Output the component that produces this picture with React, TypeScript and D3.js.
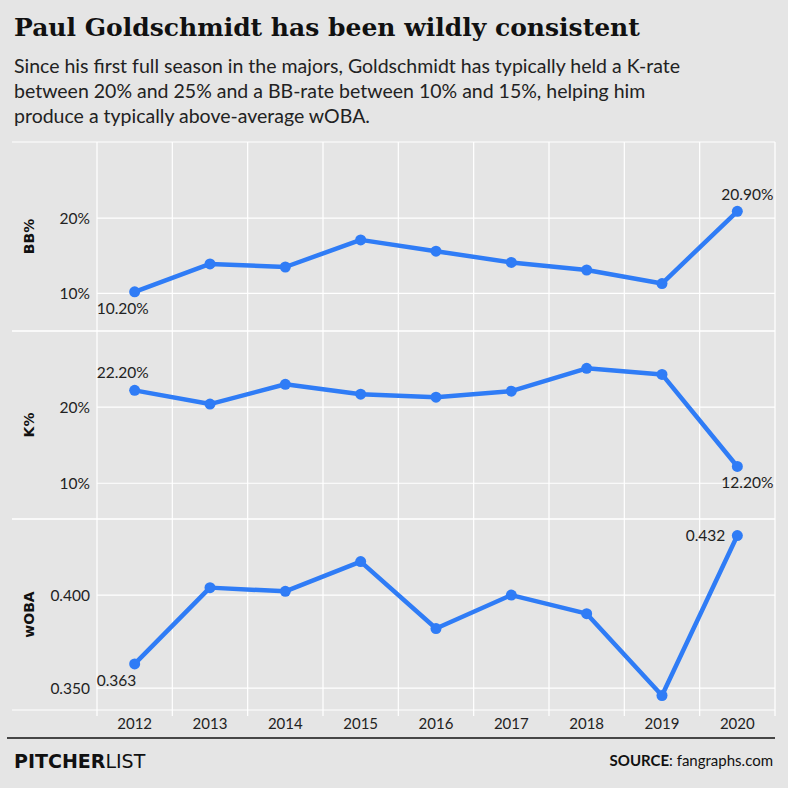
import * as d3 from 'd3';

const years = ['2012', '2013', '2014', '2015', '2016', '2017', '2018', '2019', '2020'];
const bbRate = [10.2, 13.9, 13.5, 17.1, 15.6, 14.1, 13.1, 11.3, 20.9];
const kRate = [22.2, 20.4, 23.0, 21.7, 21.3, 22.1, 25.1, 24.3, 12.2];
const woba = [0.363, 0.404, 0.402, 0.418, 0.382, 0.4, 0.39, 0.346, 0.432];

const BLUE = '#2f7cf6';
const W = 788;
const left = 97;
const right = 775;

type Panel = {
  label: string;
  values: number[];
  top: number;
  bottom: number;
  domain: [number, number];
  ticks: number[];
  fmt: (v: number) => string;
  labelFmt: (v: number) => string;
  firstBelow: boolean;
  lastPos: 'above' | 'below' | 'left';
};

const panels: Panel[] = [
  {
    label: 'BB%', values: bbRate, top: 142, bottom: 331, domain: [5, 30.1], ticks: [10, 20],
    fmt: v => `${v}%`, labelFmt: v => `${v.toFixed(2)}%`, firstBelow: true, lastPos: 'above',
  },
  {
    label: 'K%', values: kRate, top: 331, bottom: 519, domain: [5.3, 30], ticks: [10, 20],
    fmt: v => `${v}%`, labelFmt: v => `${v.toFixed(2)}%`, firstBelow: false, lastPos: 'below',
  },
  {
    label: 'wOBA', values: woba, top: 519, bottom: 710, domain: [0.3382, 0.4409], ticks: [0.35, 0.4],
    fmt: v => v.toFixed(3), labelFmt: v => v.toFixed(3), firstBelow: true, lastPos: 'left',
  },
];

export default function App() {
  const x = d3.scaleBand().domain(years).range([left, right]);
  const cx = (y: string) => (x(y) ?? 0) + x.bandwidth() / 2;

  return (
    <svg width={W} height={788} style={{ position: 'absolute', left: 0, top: 0, background: '#e5e5e5' }}>
      <rect width={W} height={788} fill='#e5e5e5' />
      <text x={14} y={36} fontFamily='DejaVu Serif' fontWeight='bold' fontSize={25} fill='#111'>
        Paul Goldschmidt has been wildly consistent
      </text>
      {[
        'Since his first full season in the majors, Goldschmidt has typically held a K-rate',
        'between 20% and 25% and a BB-rate between 10% and 15%, helping him',
        'produce a typically above-average wOBA.',
      ].map((t, i) => (
        <text key={i} x={14} y={73 + i * 25} fontFamily='Lato' fontSize={19.5} fill='#222'>{t}</text>
      ))}

      {years.concat(['end']).map((yr, i) => {
        const xx = left + i * x.bandwidth();
        return <line key={i} x1={xx} x2={xx} y1={142} y2={716} stroke='#fff' strokeWidth={1.2} />;
      })}

      {panels.map(p => {
        const y = d3.scaleLinear(p.domain, [p.bottom, p.top]);
        const line = d3.line<number>().x((_, i) => cx(years[i])).y(v => y(v));
        const n = p.values.length;
        const mid = (p.top + p.bottom) / 2;
        const lx = cx(years[n - 1]);
        const ly = y(p.values[n - 1]);
        return (
          <g key={p.label}>
            <line x1={12} x2={right} y1={p.top} y2={p.top} stroke='#fff' strokeWidth={1.2} />
            <line x1={12} x2={right} y1={p.bottom} y2={p.bottom} stroke='#fff' strokeWidth={1.2} />
            {p.ticks.map(t => (
              <g key={t}>
                <line x1={left} x2={right} y1={y(t)} y2={y(t)} stroke='#fff' strokeWidth={1.2} />
                <text x={90} y={y(t) + 6} textAnchor='end' fontFamily='Lato' fontSize={15.5} fill='#222'>{p.fmt(t)}</text>
              </g>
            ))}
            <text transform={`translate(34,${mid}) rotate(-90)`} textAnchor='middle' fontFamily='DejaVu Sans'
              fontWeight='bold' fontSize={14} fill='#111'>{p.label}</text>
            <path d={line(p.values) ?? ''} fill='none' stroke={BLUE} strokeWidth={4.5} strokeLinejoin='round' />
            {p.values.map((v, i) => (
              <circle key={i} cx={cx(years[i])} cy={y(v)} r={5.5} fill={BLUE} />
            ))}
            <text x={cx(years[0]) - 38} y={y(p.values[0]) + (p.firstBelow ? 22 : -12)} fontFamily='Lato'
              fontSize={15.5} fill='#222'>{p.labelFmt(p.values[0])}</text>
            {p.lastPos === 'left' ? (
              <text x={lx - 12} y={ly + 5} textAnchor='end' fontFamily='Lato' fontSize={15.5} fill='#222'>
                {p.labelFmt(p.values[n - 1])}
              </text>
            ) : (
              <text x={lx + 36} y={ly + (p.lastPos === 'below' ? 22 : -11)} textAnchor='end'
                fontFamily='Lato' fontSize={15.5} fill='#222'>{p.labelFmt(p.values[n - 1])}</text>
            )}
          </g>
        );
      })}

      {years.map(yr => (
        <text key={yr} x={cx(yr)} y={729} textAnchor='middle' fontFamily='Lato' fontSize={15} fill='#222'>{yr}</text>
      ))}
      <line x1={7} x2={right} y1={738} y2={738} stroke='#111' strokeWidth={1.5} />
      <text x={14} y={768} fontFamily='DejaVu Sans' fontSize={19} fill='#111'>
        <tspan fontWeight='bold'>PITCHER</tspan><tspan>LIST</tspan>
      </text>
      <text x={773} y={766} textAnchor='end' fontFamily='Lato' fontSize={15} fill='#111'>
        <tspan fontWeight='bold'>SOURCE</tspan><tspan>: fangraphs.com</tspan>
      </text>
    </svg>
  );
}
